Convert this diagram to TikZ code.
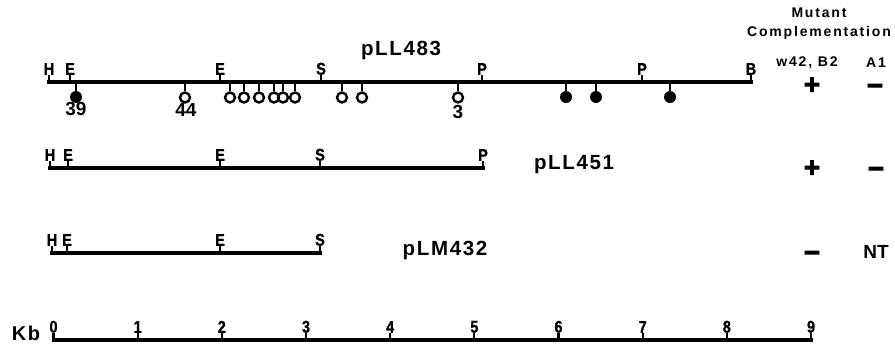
\documentclass[tikz,border=0pt]{standalone}
\usepackage{fontspec}
\setmainfont{Liberation Sans}
\newfontfamily\sitefont{Liberation Sans Bold}[FakeStretch=0.85,FakeBold=1]
\newfontfamily\namefont{Liberation Sans Bold}[LetterSpace=8]
\newfontfamily\headfont{Liberation Sans Bold}[LetterSpace=13]
\newfontfamily\numfont{Liberation Sans Bold}
\newfontfamily\signfont{Liberation Sans Bold}[FakeBold=3]
\tikzset{
  sitelab/.style={font=\sitefont\fontsize{17}{17}\selectfont, inner sep=0pt, anchor=south},
  mapbar/.style={line width=3.2pt, line cap=rect},
  stick/.style={line width=2.2pt},
  omut/.style={circle, draw, line width=2.4pt, inner sep=0pt, minimum size=10pt},
  fmut/.style={circle, fill, inner sep=0pt, minimum size=12pt},
  mutlab/.style={font=\numfont\fontsize{19}{19}\selectfont, inner sep=0pt},
  pname/.style={font=\namefont\fontsize{20.5}{20.5}\selectfont, inner sep=0pt},
  head/.style={font=\headfont\fontsize{14}{14}\selectfont, inner sep=0pt},
  sign/.style={font=\signfont\fontsize{28}{28}\selectfont, inner sep=0pt,
               text height=13pt, text depth=0pt, anchor=base},
}
\newcommand\rsite[4]{%
  \node[sitelab] (#1) at (#2,#3-7) {#4};
  \draw[stick] (#2,#3) -- (#1.south);}
\newcommand\openmut[2]{%
  \node[omut] (#1) at (#2,97.5) {};
  \draw[stick] (#2,82) -- (#1.north);}
\newcommand\fillmut[2]{%
  \node[fmut] (#1) at (#2,97) {};
  \draw[stick] (#2,82) -- (#1.north);}
\begin{document}
\begin{tikzpicture}[x=1pt,y=-1pt]
\useasboundingbox (0,0) rectangle (895,346);

% ---- pLL483 ----
\coordinate (a0) at (49,82);
\coordinate (a1) at (751,82);
\draw[mapbar] (a0) -- (a1);
\rsite{aH}{49}{82}{H}
\rsite{aE1}{70}{82}{E}
\rsite{aE2}{220}{82}{E}
\rsite{aS}{321}{82}{S}
\rsite{aP1}{482}{82}{P}
\rsite{aP2}{642}{82}{P}
\rsite{aB}{751}{82}{B}
\node[pname] (n483) at (401,50) {pLL483};

\fillmut{m39}{76}
\openmut{m44}{185}
\openmut{mo1}{230}
\openmut{mo2}{244}
\openmut{mo3}{259}
\openmut{mo4}{274}
\openmut{mo5}{283}
\openmut{mo6}{295}
\openmut{mo7}{342}
\openmut{mo8}{362}
\openmut{m3}{458}
\fillmut{mf1}{566}
\fillmut{mf2}{596}
\fillmut{mf3}{670}
\node[mutlab] (l39) at (76,109) {39};
\node[mutlab] (l44) at (186,110) {44};
\node[mutlab] (l3) at (458,112) {3};

% ---- pLL451 ----
\coordinate (b0) at (50,168);
\coordinate (b1) at (483,168);
\draw[mapbar] (b0) -- (b1);
\rsite{bH}{50}{168}{H}
\rsite{bE1}{68}{168}{E}
\rsite{bE2}{220}{168}{E}
\rsite{bS}{320}{168}{S}
\rsite{bP}{483}{168}{P}
\node[pname] (n451) at (574,165) {pLL451};

% ---- pLM432 ----
\coordinate (c0) at (52,253);
\coordinate (c1) at (320,253);
\draw[mapbar] (c0) -- (c1);
\rsite{cH}{52}{253}{H}
\rsite{cE1}{67}{253}{E}
\rsite{cE2}{220}{253}{E}
\rsite{cS}{320}{253}{S}
\node[pname] (n432) at (445,250) {pLM432};

% ---- scale ----
\coordinate (k0) at (53.5,340);
\coordinate (k9) at (811,340);
\draw[mapbar] (k0) -- (k9);
\foreach \i in {0,...,9}{
  \pgfmathsetmacro\xx{53.5+84.17*\i}
  \rsite{kt\i}{\xx}{340}{\i}
}
\node[font=\namefont\fontsize{20}{20}\selectfont, inner sep=0pt] (kb) at (26,333) {Kb};

% ---- complementation ----
\node[head] (hm) at (819,13) {Mutant};
\node[head] (hc) at (819,33) {Complementation};
\node[head] (hw) at (807,63) {w42, B2};
\node[head] (ha) at (876,63) {A1};
\node[sign] (s11) at (812,94) {+};
\node[sign] (s12) at (875,95) {−};
\node[sign] (s21) at (812,177) {+};
\node[sign] (s22) at (876,178) {−};
\node[sign] (s31) at (812,262) {−};
\node[font=\numfont\fontsize{19}{19}\selectfont, inner sep=0pt] (s32) at (876,252) {NT};
\end{tikzpicture}
\end{document}
